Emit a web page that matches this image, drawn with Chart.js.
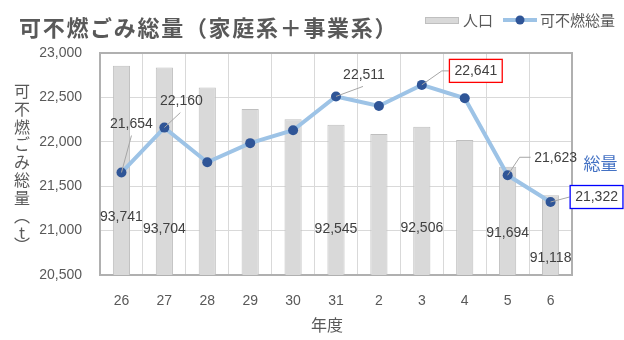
<!DOCTYPE html>
<html lang="ja">
<head>
<meta charset="utf-8">
<title>可不燃ごみ総量（家庭系＋事業系）</title>
<script src="https://cdn.jsdelivr.net/npm/chart.js@4.4.1/dist/chart.umd.min.js"></script>
<style>
    html, body { margin: 0; padding: 0; background: #fff; }
    #wrap { width: 624px; height: 340px; }
</style>
</head>
<body>
<div id="wrap"><canvas id="wasteChart" width="624" height="340"></canvas></div>
<script>
// 年度（平成26〜31、令和2〜6）
const years = ['26', '27', '28', '29', '30', '31', '2', '3', '4', '5', '6'];
// 人口（人）
const population = [93741, 93704, 93300, 92865, 92656, 92545, 92358, 92506, 92236, 91694, 91118];
// 可不燃総量（t）
const wasteTotal = [21654, 22160, 21770, 21985, 22130, 22511, 22403, 22641, 22490, 21623, 21322];

// axis ranges
const wasteAxis = { min: 20500, max: 23000, step: 500 };
const popAxis = { min: 89500, max: 94000 };

// which labels are shown
const wasteLabelShown = [true, true, false, false, false, true, false, true, false, true, true];
const popLabelShown = [true, true, false, false, false, true, false, true, false, true, true];

const TITLE = '可不燃ごみ総量（家庭系＋事業系）';
const Y_TITLE = ['可', '不', '燃', 'ご', 'み', '総', '量', '︵', 't', '︶'];

const NUM_FAMILY = '"Liberation Sans", Arial, sans-serif';
const NUM_FONT = '14px ' + NUM_FAMILY;
const JP_FONT = '"Noto Sans CJK JP", "Noto Sans", sans-serif';
const TEXT_GRAY = '#595959';
const LABEL_COLOR = '#404040';
const BAR_FILL = '#d9d9d9';
const BAR_EDGE = '#bfbfbf';
const LINE_COLOR = '#9dc3e6';
const POINT_COLOR = '#2f5597';

// label placement relative to the data point (text centre, leader path)
const wasteLabelLayout = {
    0: { dx: 10, dy: -48, leader: [[10, -37]] },
    1: { dx: 17, dy: -26, leader: [[16, -15]] },
    5: { dx: 28, dy: -21, leader: [[27, -10]] },
    7: { dx: 54, dy: -14, leader: [[20, -14], [27, -14]], box: '#ff0000' },
    9: { dx: 48, dy: -17, leader: [[12, -18], [23, -18]] },
    10: { dx: 46, dy: -5, leader: [[19, -5]], box: '#0000ff' }
};
// population label: vertical offset from the bar top
const popLabelOffset = { 0: 151, 1: 162, 5: 104, 7: 101, 9: 66, 10: 63 };

const fmt = v => v.toLocaleString('en-US');

const labelsPlugin = {
    id: 'customLabels',
    beforeDatasetsDraw(chart) {
        // plot frame
        const { ctx, chartArea: a } = chart;
        ctx.save();
        ctx.strokeStyle = '#b0b0b0';
        ctx.lineWidth = 2;
        ctx.strokeRect(a.left, a.top, a.right - a.left, a.bottom - a.top);
        ctx.restore();
    },
    afterDatasetsDraw(chart) {
        const { ctx } = chart;
        const barMeta = chart.getDatasetMeta(0);
        const lineMeta = chart.getDatasetMeta(1);
        ctx.save();
        ctx.font = NUM_FONT;
        ctx.textAlign = 'center';
        ctx.textBaseline = 'middle';

        // population labels
        ctx.fillStyle = LABEL_COLOR;
        barMeta.data.forEach((bar, i) => {
            if (!popLabelShown[i]) return;
            ctx.fillText(fmt(population[i]), bar.x, bar.y + popLabelOffset[i]);
        });

        // waste total labels with leader lines
        lineMeta.data.forEach((pt, i) => {
            if (!wasteLabelShown[i]) return;
            const lay = wasteLabelLayout[i];
            ctx.strokeStyle = '#a6a6a6';
            ctx.lineWidth = 1;
            ctx.beginPath();
            ctx.moveTo(pt.x, pt.y);
            lay.leader.forEach(p => ctx.lineTo(pt.x + p[0], pt.y + p[1]));
            ctx.stroke();

            const tx = pt.x + lay.dx;
            const ty = pt.y + lay.dy;
            const text = fmt(wasteTotal[i]);
            if (lay.box) {
                const w = ctx.measureText(text).width + 10;
                ctx.fillStyle = '#fff';
                ctx.fillRect(tx - w / 2, ty - 11.5, w, 23);
                ctx.strokeStyle = lay.box;
                ctx.lineWidth = 1.3;
                ctx.strokeRect(tx - w / 2, ty - 11.5, w, 23);
            }
            ctx.fillStyle = LABEL_COLOR;
            ctx.fillText(text, tx, ty);
        });

        // 総量 note next to last point
        const last = lineMeta.data[lineMeta.data.length - 1];
        ctx.font = '17px ' + JP_FONT;
        ctx.fillStyle = '#4472c4';
        ctx.fillText('総量', last.x + 50, last.y - 38);
        ctx.restore();
    },
    afterDraw(chart) {
        const { ctx } = chart;
        ctx.save();

        // chart title (drawn per character for the wide Excel spacing)
        ctx.font = 'bold 22px ' + JP_FONT;
        ctx.fillStyle = TEXT_GRAY;
        ctx.textAlign = 'center';
        ctx.textBaseline = 'middle';
        [...TITLE].forEach((ch, i) => ctx.fillText(ch, 30 + i * 23.7, 28));

        // legend
        ctx.fillStyle = BAR_FILL;
        ctx.strokeStyle = BAR_EDGE;
        ctx.lineWidth = 1;
        ctx.fillRect(425.5, 17.5, 33, 6);
        ctx.strokeRect(425.5, 17.5, 33, 6);
        ctx.font = '15px ' + JP_FONT;
        ctx.fillStyle = TEXT_GRAY;
        ctx.textAlign = 'left';
        ctx.fillText('人口', 463, 20);
        ctx.strokeStyle = LINE_COLOR;
        ctx.lineWidth = 4;
        ctx.beginPath();
        ctx.moveTo(503, 20);
        ctx.lineTo(537, 20);
        ctx.stroke();
        ctx.fillStyle = POINT_COLOR;
        ctx.beginPath();
        ctx.arc(520, 20, 4.5, 0, Math.PI * 2);
        ctx.fill();
        ctx.fillStyle = TEXT_GRAY;
        ctx.fillText('可不燃総量', 540, 20);

        // vertical y-axis title
        ctx.font = '16px ' + JP_FONT;
        ctx.textAlign = 'center';
        let y = 91;
        Y_TITLE.forEach(ch => {
            const step = ch === 't' ? 12 : 17.8;
            ctx.fillText(ch, 22, y);
            y += step;
        });

        // x-axis title
        ctx.fillText('年度', 327, 325);
        ctx.restore();
    }
};

const ctx = document.getElementById('wasteChart').getContext('2d');
new Chart(ctx, {
    type: 'bar',
    data: {
        labels: years,
        datasets: [
            {
                type: 'bar',
                label: '人口',
                data: population,
                yAxisID: 'yPop',
                backgroundColor: BAR_FILL,
                borderColor: BAR_EDGE,
                borderWidth: 1,
                barPercentage: 0.4,
                categoryPercentage: 1,
                order: 1
            },
            {
                type: 'line',
                label: '可不燃総量',
                data: wasteTotal,
                yAxisID: 'y',
                borderColor: LINE_COLOR,
                borderWidth: 4,
                tension: 0,
                pointRadius: 5,
                pointBackgroundColor: POINT_COLOR,
                pointBorderColor: POINT_COLOR,
                pointBorderWidth: 0,
                order: 0
            }
        ]
    },
    options: {
        responsive: false,
        animation: false,
        devicePixelRatio: 1,
        layout: { padding: { top: 53, right: 52, left: 0, bottom: 0 } },
        plugins: {
            legend: { display: false },
            title: { display: false },
            tooltip: { enabled: false }
        },
        scales: {
            x: {
                afterFit(scale) { scale.height = 65; },
                grid: { color: '#d9d9d9', drawTicks: false, offset: true },
                border: { display: false },
                ticks: {
                    color: TEXT_GRAY,
                    font: { family: NUM_FAMILY, size: 14 },
                    padding: 18
                }
            },
            y: {
                position: 'left',
                min: wasteAxis.min,
                max: wasteAxis.max,
                afterFit(scale) { scale.width = 100; },
                grid: { color: '#d9d9d9', drawTicks: false },
                border: { display: false },
                ticks: {
                    stepSize: wasteAxis.step,
                    color: TEXT_GRAY,
                    padding: 18,
                    font: { family: NUM_FAMILY, size: 14 },
                    callback: v => fmt(v)
                }
            },
            yPop: {
                display: false,
                min: popAxis.min,
                max: popAxis.max
            }
        }
    },
    plugins: [labelsPlugin]
});
</script>
</body>
</html>
